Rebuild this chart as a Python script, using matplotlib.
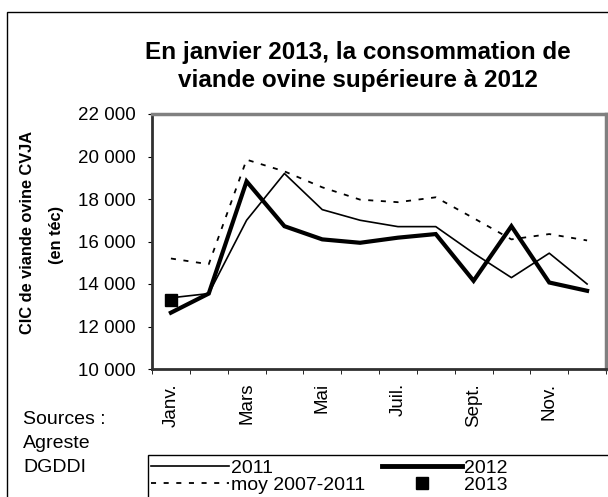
import matplotlib
matplotlib.use('Agg')
import matplotlib.pyplot as plt
from matplotlib.patches import Rectangle
from matplotlib.lines import Line2D
import numpy as np

plt.rcParams['font.family'] = ['Liberation Sans', 'DejaVu Sans']

# Données (CIC viande ovine, téc)
mois = ['Janv.', 'Févr.', 'Mars', 'Avr.', 'Mai', 'Juin',
        'Juil.', 'Août', 'Sept.', 'Oct.', 'Nov.', 'Déc.']
v2011 = [13350, 13550, 17000, 19200, 17500, 17000,
         16700, 16700, 15450, 14300, 15450, 14000]
v2012 = [12650, 13550, 18830, 16720, 16100, 15940,
         16180, 16350, 14150, 16720, 14070, 13680]
moy = [15200, 14930, 19850, 19300, 18550, 17970,
       17850, 18080, 17100, 16100, 16350, 16050]
v2013 = [13250]

fig = plt.figure(figsize=(6.08, 4.97), dpi=100)
W, H = 608, 497
ax = fig.add_axes([152 / W, 1 - 369 / H, (606 - 152) / W, (369 - 114) / H])

x = np.arange(len(mois))
ax.plot(x, v2011, color='black', lw=1.2)
ax.plot(x, v2012, color='black', lw=3.0, solid_joinstyle='miter')
ax.plot(x, moy, color='black', lw=1.3, dashes=(2.8, 4.2))
ax.plot(x[:len(v2013)], v2013, 's', color='black', ms=9)

ax.set_xlim(-0.5, 11.5)
ax.set_ylim(10000, 22000)
ax.set_yticks(np.arange(10000, 22001, 2000))
ax.set_yticklabels([f'{v:,}'.replace(',', ' ') for v in range(10000, 22001, 2000)])
ax.tick_params(axis='y', length=3, pad=9, labelsize=13.5, color='black')

ax.set_xticks(x[::2])
ax.set_xticklabels(mois[::2], rotation=90, fontsize=13.5)
ax.set_xticks(np.arange(-0.5, 12, 1), minor=True)
ax.tick_params(axis='x', which='major', length=0, pad=10)
ax.tick_params(axis='x', which='minor', length=3.5, color='black')

for s in ['top', 'right']:
    ax.spines[s].set_color('#808080')
    ax.spines[s].set_linewidth(2.5)
for s in ['left', 'bottom']:
    ax.spines[s].set_color('#303030')
    ax.spines[s].set_linewidth(2)

# Titre
fig.text(358 / W, 1 - 52 / H, 'En janvier 2013, la consommation de',
         ha='center', va='center', fontsize=17.5, fontweight='bold')
fig.text(358 / W, 1 - 80 / H, 'viande ovine supérieure à 2012',
         ha='center', va='center', fontsize=17.5, fontweight='bold')

# Titre de l'axe
fig.text(28 / W, 1 - 232 / H, 'CIC de viande ovine CVJA', rotation=90,
         ha='center', va='center', fontsize=11.8, fontweight='bold')
fig.text(57 / W, 1 - 235 / H, '(en téc)', rotation=90,
         ha='center', va='center', fontsize=11.8, fontweight='bold')

# Sources
for txt, yy in [('Sources :', 420), ('Agreste', 443), ('DGDDI', 467)]:
    fig.text(23 / W, 1 - yy / H, txt, ha='left', va='center', fontsize=14)

# Légende
h2011 = Line2D([], [], color='black', lw=1.2)
hmoy = Line2D([], [], color='black', lw=1.3, dashes=(2.8, 4.2))
h2012 = Line2D([], [], color='black', lw=3.5)
h2013 = Line2D([], [], color='black', marker='s', ms=9, ls='none')
fig.legend([h2011, hmoy], ['2011', 'moy 2007-2011'], loc='upper left',
           bbox_to_anchor=(151 / W, 1 - 459 / H), frameon=False, fontsize=14,
           handlelength=4.0, handletextpad=0.1, labelspacing=0.0,
           borderpad=0, borderaxespad=0)
fig.legend([h2012, h2013], ['2012', '2013'], loc='upper left',
           bbox_to_anchor=(382 / W, 1 - 459 / H), frameon=False, fontsize=14,
           handlelength=4.1, handletextpad=0.1, labelspacing=0.0,
           borderpad=0, borderaxespad=0)
fig.add_artist(Rectangle((148 / W, -0.1), 1.0, (497 - 455) / H + 0.1,
                         transform=fig.transFigure, fill=False,
                         ec='black', lw=1))

# Cadre extérieur
fig.add_artist(Rectangle((7 / W, -0.1), 1.0, (497 - 12) / H + 0.1,
                         transform=fig.transFigure, fill=False,
                         ec='black', lw=1))

fig.savefig('out.png', dpi=100)
